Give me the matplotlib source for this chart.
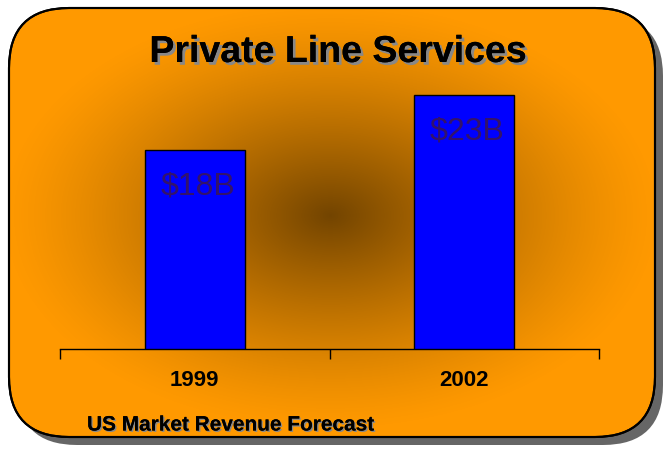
import numpy as np
import matplotlib
matplotlib.use("Agg")
import matplotlib.pyplot as plt
from matplotlib.patches import FancyBboxPatch
import matplotlib.patheffects as pe

# chart data
categories = ["1999", "2002"]
revenue = [18, 23]
bar_labels = ["$18B", "$23B"]

W, H = 663, 449
fig = plt.figure(figsize=(W / 100, H / 100), dpi=100)
fig.patch.set_facecolor("white")

# background axes in pixel coordinates
bg = fig.add_axes([0, 0, 1, 1])
bg.set_xlim(0, W)
bg.set_ylim(H, 0)
bg.axis("off")

# shadow of the rounded panel
shadow = FancyBboxPatch((17, 16), 646, 429, boxstyle="round,pad=0,rounding_size=60",
                        facecolor="#666666", edgecolor="none", zorder=1)
bg.add_patch(shadow)

# rounded orange panel
panel = FancyBboxPatch((9, 8), 646, 429, boxstyle="round,pad=0,rounding_size=60",
                       facecolor="#FF9900", edgecolor="black", linewidth=1.5, zorder=2)
bg.add_patch(panel)

# radial dark glow in the middle of the panel
xx, yy = np.meshgrid(np.arange(W), np.arange(H))
r = np.sqrt(((xx - 330) / 330.0) ** 2 + ((yy - 215) / 215.0) ** 2)
alpha = np.clip(1 - r, 0, 1) ** 1.3
glow = np.zeros((H, W, 4))
glow[..., 0] = 0.45
glow[..., 1] = 0.27
glow[..., 3] = alpha
im = bg.imshow(glow, extent=(0, W, H, 0), zorder=3, interpolation="bilinear")
im.set_clip_path(panel)

# redraw the panel border on top
border = FancyBboxPatch((9, 8), 646, 429, boxstyle="round,pad=0,rounding_size=60",
                        facecolor="none", edgecolor="black", linewidth=1.5, zorder=4)
bg.add_patch(border)

# title
bg.text(338, 52, "Private Line Services", ha="center", va="center",
        fontsize=27, fontweight="bold", family="Liberation Sans", zorder=5,
        path_effects=[pe.withSimplePatchShadow(offset=(2, -2), shadow_rgbFace="#888888", alpha=1),
                      pe.Normal()])

# footnote
bg.text(87, 425, "US Market Revenue Forecast", ha="left", va="center",
        fontsize=15, fontweight="bold", family="Liberation Sans", zorder=5,
        path_effects=[pe.withSimplePatchShadow(offset=(1, -1), shadow_rgbFace="#888888", alpha=1),
                      pe.Normal()])

# bar chart axes
ax = fig.add_axes([60 / W, (H - 349) / H, 539 / W, 276 / H])
ax.patch.set_alpha(0)
x = np.arange(len(categories))
bars = ax.bar(x, revenue, width=0.37, color="#0000FF", edgecolor="black", linewidth=1, zorder=3)
ax.set_xlim(-0.5, 1.5)
ax.set_ylim(0, 25)
for s in ["top", "right", "left"]:
    ax.spines[s].set_visible(False)
ax.spines["bottom"].set_linewidth(1)
ax.set_yticks([])
ax.set_xticks([-0.5, 0.5, 1.5])
ax.set_xticklabels([])
ax.tick_params(axis="x", direction="out", length=7, width=1)

for xi, cat in zip(x, categories):
    ax.annotate(cat, (xi, 0), xytext=(0, -32), textcoords="offset pixels",
                ha="center", va="center", fontsize=16, fontweight="bold",
                family="Liberation Sans", annotation_clip=False)

for xi, v, lab in zip(x, revenue, bar_labels):
    ax.annotate(lab, (xi, v), xytext=(3, -36), textcoords="offset pixels",
                ha="center", va="center", fontsize=23, color="#33136B",
                family="Liberation Sans", zorder=4)

fig.savefig("out.png", dpi=100)
